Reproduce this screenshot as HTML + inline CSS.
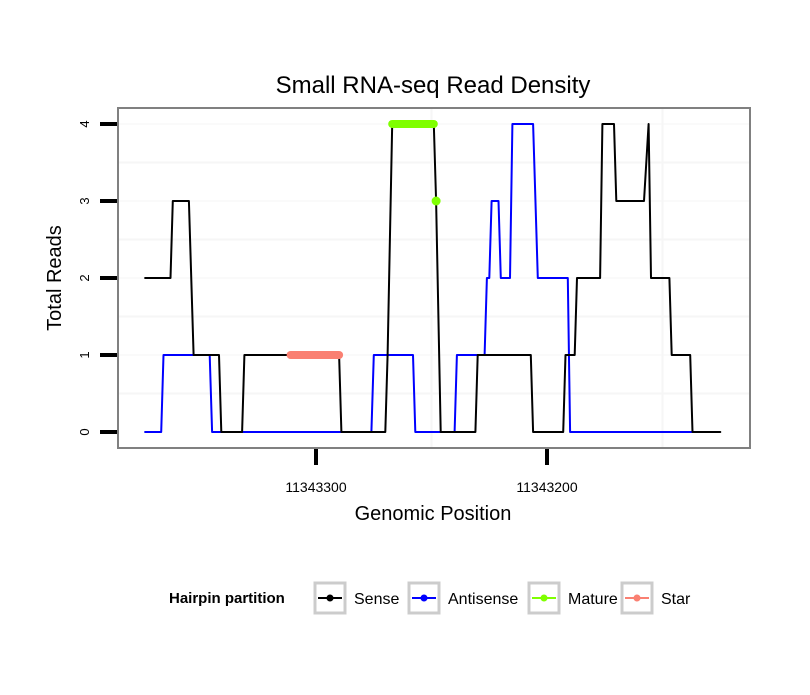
<!DOCTYPE html>
<html><head><meta charset="utf-8"><style>
body{margin:0;background:#fff;font-family:"Liberation Sans",sans-serif}
</style></head><body>
<svg id="chart" width="810" height="690" viewBox="0 0 810 690" xmlns="http://www.w3.org/2000/svg" font-family="Liberation Sans, sans-serif">
<rect width="810" height="690" fill="#fff"/>
<text x="433" y="93" font-size="24" text-anchor="middle">Small RNA-seq Read Density</text>
<g id="grid"></g>
<g id="series"></g>
<rect x="118" y="108" width="632" height="340" fill="none" stroke="#808080" stroke-width="2"/>
<g id="axes"></g>
<text transform="translate(61,278) rotate(-90)" font-size="20" text-anchor="middle">Total Reads</text>
<text x="433" y="520" font-size="20" text-anchor="middle">Genomic Position</text>
<g>
<text x="169" y="603" font-size="15" font-weight="bold">Hairpin partition</text>
<g><rect x="315" y="583" width="30" height="30" fill="#fff" stroke="#ccc" stroke-width="3"/><line x1="318" y1="598" x2="342" y2="598" stroke="#000" stroke-width="2"/><circle cx="330" cy="598" r="3.5" fill="#000"/><text x="354" y="604" font-size="16">Sense</text></g>
<g><rect x="409" y="583" width="30" height="30" fill="#fff" stroke="#ccc" stroke-width="3"/><line x1="412" y1="598" x2="436" y2="598" stroke="#00f" stroke-width="2"/><circle cx="424" cy="598" r="3.5" fill="#00f"/><text x="448" y="604" font-size="16">Antisense</text></g>
<g><rect x="529" y="583" width="30" height="30" fill="#fff" stroke="#ccc" stroke-width="3"/><line x1="532" y1="598" x2="556" y2="598" stroke="#7fff00" stroke-width="2"/><circle cx="544" cy="598" r="3.5" fill="#7fff00"/><text x="568" y="604" font-size="16">Mature</text></g>
<g><rect x="622" y="583" width="30" height="30" fill="#fff" stroke="#ccc" stroke-width="3"/><line x1="625" y1="598" x2="649" y2="598" stroke="#fa8072" stroke-width="2"/><circle cx="637" cy="598" r="3.5" fill="#fa8072"/><text x="661" y="604" font-size="16">Star</text></g>
</g>
</svg>
<script>
const BASE = 11343300;
const senseOffsets = [74,63,62,55,53,42,41,32,31,-10,-11,-30,-31,-33,-51,-52,-54,-69,-70,-93,-94,-107,-108,-112,-113,-123,-124,-129,-130,-142,-144,-145,-153,-154,-162,-163,-175];
const senseValues  = [2,2,3,3,1,1,0,0,1,1,0,0,1,4,4,3,0,0,1,1,0,0,1,1,2,2,4,4,3,3,4,2,2,1,1,0,0];
const antiOffsets = [74,67,66,46,45,-24,-25,-42,-43,-60,-61,-73,-74,-75,-76,-79,-80,-84,-85,-94,-96,-109,-110,-163];
const antiValues  = [0,0,1,1,0,0,1,1,0,0,1,1,2,2,3,3,2,2,4,4,2,2,0,0];
const matureOffsets = [-33,-51];
const matureValues = [4,4];
const matureDotOffsets = [-52];
const matureDotValues = [3];
const starOffsets = [11,-10];
const starValues = [1,1];
const yTicks = [0,1,2,3,4];
const xTicks = [11343300,11343200];
const xTickLabels = ["11343300","11343200"];

const NS="http://www.w3.org/2000/svg";
function x(pos){return 316-(pos-BASE)*2.31;}
function y(v){return 432-v*77;}
function mk(tag,attrs,parent){const e=document.createElementNS(NS,tag);for(const k in attrs)e.setAttribute(k,attrs[k]);parent.appendChild(e);return e;}
const grid=document.getElementById('grid'),series=document.getElementById('series'),axes=document.getElementById('axes');
for(let v=0.5;v<4.1;v+=0.5){const g=mk('line',{x1:119,x2:749,y1:y(v),y2:y(v),stroke:'#f6f6f6','stroke-width':Number.isInteger(v)?1:2},grid);

}
[11343250,11343150].forEach(p=>{const g=mk('line',{x1:x(p),x2:x(p),y1:109,y2:447,stroke:'#f6f6f6','stroke-width':2},grid);

});
function path(offs,vals,color,w,name){
  const d=offs.map((o,i)=>(i?'L':'M')+x(BASE+o).toFixed(1)+','+y(vals[i]).toFixed(1)).join(' ');
  const p=mk('path',{d:d,fill:'none',stroke:color,'stroke-width':w,'stroke-linecap':'round','stroke-linejoin':'round'},series);
  
  
}
path(antiOffsets,antiValues,'#0000ff',2,'antisense-line');
path(senseOffsets,senseValues,'#000',2,'sense-line');
path(starOffsets,starValues,'#fa8072',8,'star-segment');
path(matureOffsets,matureValues,'#7fff00',8,'mature-segment');
matureDotOffsets.forEach((o,i)=>{const c=mk('circle',{cx:x(BASE+o),cy:y(matureDotValues[i]),r:4.5,fill:'#7fff00'},series);

});
yTicks.forEach(v=>{const t=mk('line',{x1:100,x2:117,y1:y(v),y2:y(v),stroke:'#000','stroke-width':4},axes);


const l=mk('text',{transform:`translate(89,${y(v)}) rotate(-90)`,'font-size':13,'text-anchor':'middle'},axes);l.textContent=v;

});
xTicks.forEach((p,i)=>{const t=mk('line',{x1:x(p),x2:x(p),y1:449,y2:465,stroke:'#000','stroke-width':4},axes);


const l=mk('text',{x:x(p),y:492,'font-size':14,'text-anchor':'middle'},axes);l.textContent=xTickLabels[i];

});
</script>
</body></html>
